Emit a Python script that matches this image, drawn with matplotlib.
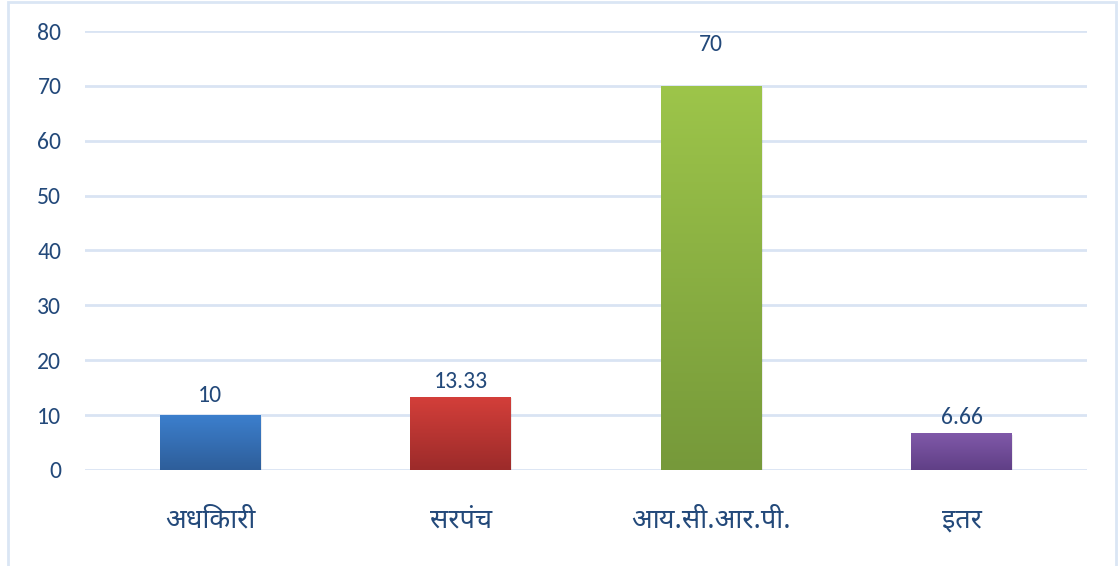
import matplotlib
matplotlib.use("Agg")
import matplotlib.pyplot as plt
import numpy as np
from matplotlib import font_manager as fm
from matplotlib.colors import LinearSegmentedColormap
from matplotlib.patches import Rectangle

# ---- data ----
categories = ["अधिकारी", "सरपंच", "आय.सी.आर.पी.", "इतर"]
values = [10, 13.33, 70, 6.66]
value_labels = ["10", "13.33", "70", "6.66"]
y_ticks = [0, 10, 20, 30, 40, 50, 60, 70, 80]

# ---- styles ----
bar_top_colors = ["#3C7FCD", "#D43F3A", "#9DC54A", "#8059A9"]
bar_bottom_colors = ["#2E5E9A", "#9C2B2A", "#76993A", "#603F86"]
label_offsets_px = [9, 5, 31, 5]
text_color = "#23497A"
grid_color = "#D9E4F3"

avail = set(f.name for f in fm.fontManager.ttflist)
def pick(prefs, default):
    for p in prefs:
        if p in avail:
            return p
    return default

num_font = pick(["Carlito", "Calibri", "Open Sans"], "DejaVu Sans")
dev_font = pick(["Nirmala UI", "Mangal", "Noto Sans Devanagari", "Hind", "Mukta"], "DejaVu Sans")

fig = plt.figure(figsize=(11.18, 5.66), dpi=100)
fig.patch.set_facecolor("white")
fig.patches.append(Rectangle((8 / 1118, -0.05), (1116 - 8) / 1118, (564 + 28) / 566,
                             transform=fig.transFigure, fill=False,
                             edgecolor="#DAE6F4", linewidth=2, zorder=0))

ax = fig.add_axes([85 / 1118, 96 / 566, 1002 / 1118, 439 / 566])
x = np.arange(len(categories))
width = 0.403
bars = ax.bar(x, values, width=width, color="none", edgecolor="none", zorder=3)

grad = np.linspace(0, 1, 256).reshape(-1, 1)
for b, top, bot in zip(bars, bar_top_colors, bar_bottom_colors):
    x0 = b.get_x()
    h = b.get_height()
    w = b.get_width()
    # soft shadow
    ax.add_patch(Rectangle((x0 + 0.004, -0.3), w, h, facecolor="#000000",
                           alpha=0.07, edgecolor="none", zorder=2))
    cmap = LinearSegmentedColormap.from_list("g", [bot, top])
    im = ax.imshow(grad, extent=[x0, x0 + w, 0, h], origin="lower", aspect="auto",
                   cmap=cmap, zorder=3, interpolation="bicubic")
    im.set_clip_path(b)

for xi, v, lab, off in zip(x, values, value_labels, label_offsets_px):
    ax.annotate(lab, (xi, v), xytext=(0, off * 0.72), textcoords="offset points",
                ha="center", va="bottom", fontsize=17, color=text_color,
                family=num_font)

ax.set_xlim(-0.5, len(categories) - 0.5)
ax.set_ylim(0, 80)
ax.set_yticks(y_ticks)
ax.set_yticklabels([str(t) for t in y_ticks], fontsize=17, color=text_color, family=num_font)
ax.set_xticks(x)
ax.set_xticklabels(categories, fontsize=19.5, color=text_color, family=[dev_font, num_font])
ax.tick_params(axis="y", length=0, pad=17)
ax.tick_params(axis="x", length=0, pad=26)
ax.yaxis.grid(True, color=grid_color, linewidth=2, zorder=0)
ax.set_axisbelow(True)
for s in ax.spines.values():
    s.set_visible(False)

fig.savefig("out.png", dpi=100)
